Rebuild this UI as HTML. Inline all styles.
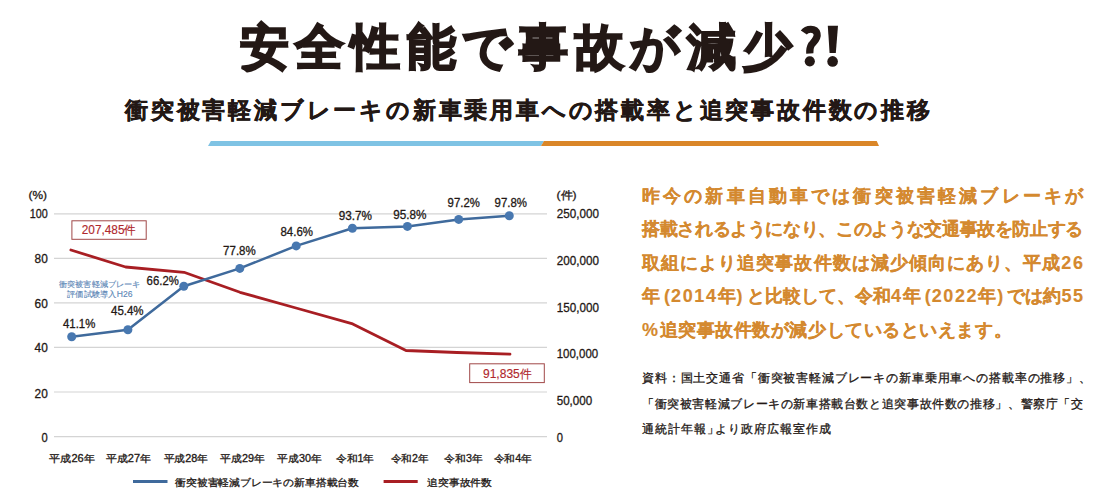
<!DOCTYPE html>
<html lang="ja">
<head>
<meta charset="utf-8">
<style>
html,body{margin:0;padding:0;background:#fff;}
body{width:1097px;height:497px;position:relative;overflow:hidden;font-family:"Liberation Sans",sans-serif;color:#231815;}
.abs{position:absolute;white-space:nowrap;}
#title{left:239.5px;top:22.5px;font-size:49px;line-height:49px;font-weight:bold;letter-spacing:6.7px;-webkit-text-stroke:2px #231815;}
#sub{left:125px;top:98.5px;font-size:23px;line-height:23px;font-weight:bold;letter-spacing:2.8px;-webkit-text-stroke:0.5px #231815;}
.ot{position:absolute;left:642px;width:441px;font-size:17.5px;line-height:17.5px;font-weight:bold;color:#d4892f;-webkit-text-stroke:0.15px #d4892f;text-align:justify;text-align-last:justify;white-space:nowrap;}
.ot b{font-size:18px;letter-spacing:1.6px;} .ot i{font-style:normal;font-size:18px;margin:0 1px 0 4px;} .ot u{text-decoration:none;font-size:18px;margin:0 4px 0 1px;}
.src{position:absolute;left:642px;width:441px;font-size:12px;line-height:12px;color:#231815;-webkit-text-stroke:0.3px #231815;text-align:justify;text-align-last:justify;white-space:nowrap;}
svg{position:absolute;left:0;top:0;}
svg text{font-family:"Liberation Sans",sans-serif;}
</style>
</head>
<body>
<div id="title" class="abs">安全性能で事故が減少</div>

<div id="sub" class="abs">衝突被害軽減ブレーキの新車乗用車への搭載率と追突事故件数の推移</div>
<svg width="1097" height="497" viewBox="0 0 1097 497">
<g fill="#231815"><path d="M803.8 32.5 C806.5 28.5 815.5 27.5 817 33.5 C818.3 38.5 813.5 42 811.3 45 C809.8 47.5 809.6 50 809.8 53.5" fill="none" stroke="#231815" stroke-width="7.2"/><circle cx="809.8" cy="61.3" r="5.1"/><polygon points="827.8,25.8 838,25.8 835.8,53 829.6,53"/><circle cx="832.6" cy="61.4" r="5.3"/></g>
<polygon points="210.9,141 544,141 541,146 208,146" fill="#7fc3e4"/>
<polygon points="544,141 876.7,141 879,146 541,146" fill="#da8628"/>
<g stroke="#d4d4d4" stroke-width="1.2"><line x1="54" y1="213.8" x2="547" y2="213.8"/><line x1="54" y1="258.3" x2="547" y2="258.3"/><line x1="54" y1="302.9" x2="547" y2="302.9"/><line x1="54" y1="347.4" x2="547" y2="347.4"/><line x1="54" y1="392.0" x2="547" y2="392.0"/><line x1="54" y1="436.6" x2="547" y2="436.6"/></g>
<text x="29.799999999999997" y="218" font-size="12.5" fill="#231815" stroke="#231815" text-anchor="start" textLength="18" lengthAdjust="spacingAndGlyphs" stroke-width="0.3">100</text>
<text x="34.599999999999994" y="263" font-size="12.5" fill="#231815" stroke="#231815" text-anchor="start" textLength="13.2" lengthAdjust="spacingAndGlyphs" stroke-width="0.3">80</text>
<text x="34.599999999999994" y="307.5" font-size="12.5" fill="#231815" stroke="#231815" text-anchor="start" textLength="13.2" lengthAdjust="spacingAndGlyphs" stroke-width="0.3">60</text>
<text x="34.599999999999994" y="352" font-size="12.5" fill="#231815" stroke="#231815" text-anchor="start" textLength="13.2" lengthAdjust="spacingAndGlyphs" stroke-width="0.3">40</text>
<text x="34.599999999999994" y="397.6" font-size="12.5" fill="#231815" stroke="#231815" text-anchor="start" textLength="13.2" lengthAdjust="spacingAndGlyphs" stroke-width="0.3">20</text>
<text x="41.599999999999994" y="441.6" font-size="12.5" fill="#231815" stroke="#231815" text-anchor="start" textLength="6.2" lengthAdjust="spacingAndGlyphs" stroke-width="0.3">0</text>
<text x="28.5" y="199" font-size="11" fill="#231815" stroke="#231815" text-anchor="start" textLength="18.5" lengthAdjust="spacingAndGlyphs" stroke-width="0.3">(%)</text>
<text x="556.7" y="218" font-size="12.5" fill="#231815" stroke="#231815" text-anchor="start" textLength="42.2" lengthAdjust="spacingAndGlyphs" stroke-width="0.3">250,000</text>
<text x="556.7" y="264.8" font-size="12.5" fill="#231815" stroke="#231815" text-anchor="start" textLength="42.2" lengthAdjust="spacingAndGlyphs" stroke-width="0.3">200,000</text>
<text x="556.7" y="311.8" font-size="12.5" fill="#231815" stroke="#231815" text-anchor="start" textLength="42.2" lengthAdjust="spacingAndGlyphs" stroke-width="0.3">150,000</text>
<text x="556.7" y="358" font-size="12.5" fill="#231815" stroke="#231815" text-anchor="start" textLength="41.5" lengthAdjust="spacingAndGlyphs" stroke-width="0.3">100,000</text>
<text x="556.7" y="405" font-size="12.5" fill="#231815" stroke="#231815" text-anchor="start" textLength="35.5" lengthAdjust="spacingAndGlyphs" stroke-width="0.3">50,000</text>
<text x="556.7" y="442" font-size="12.5" fill="#231815" stroke="#231815" text-anchor="start" textLength="6.2" lengthAdjust="spacingAndGlyphs" stroke-width="0.3">0</text>
<text x="556.6" y="199" font-size="11" fill="#231815" stroke="#231815" text-anchor="start" textLength="20" lengthAdjust="spacingAndGlyphs" stroke-width="0.3">(件)</text>
<polyline fill="none" stroke="#a81e23" stroke-width="2.8" stroke-linejoin="round" stroke-linecap="round" points="70.9,250 125.6,267 184,272.3 240,292.3 296,308 352.7,323.9 406,350.5 457,352.5 510,354.2"/>
<polyline fill="none" stroke="#3f6a9c" stroke-width="2.5" stroke-linejoin="round" points="71.7,336.7 127.9,329.8 183.8,286.2 239.8,268.4 296.2,245.9 352.4,228.2 407.4,226.4 458.7,219.4 509.3,215.8"/>
<g fill="#4878b0"><circle cx="71.7" cy="336.7" r="4.5"/><circle cx="127.9" cy="329.8" r="4.5"/><circle cx="183.8" cy="286.2" r="4.5"/><circle cx="239.8" cy="268.4" r="4.5"/><circle cx="296.2" cy="245.9" r="4.5"/><circle cx="352.4" cy="228.2" r="4.5"/><circle cx="407.4" cy="226.4" r="4.5"/><circle cx="458.7" cy="219.4" r="4.5"/><circle cx="509.3" cy="215.8" r="4.5"/></g>
<text x="63" y="328" font-size="12.3" fill="#231815" stroke="#231815" text-anchor="start" textLength="32.3" lengthAdjust="spacingAndGlyphs" stroke-width="0.3">41.1%</text>
<text x="111" y="315.3" font-size="12.3" fill="#231815" stroke="#231815" text-anchor="start" textLength="32.6" lengthAdjust="spacingAndGlyphs" stroke-width="0.3">45.4%</text>
<text x="146.6" y="285" font-size="12.3" fill="#231815" stroke="#231815" text-anchor="start" textLength="32.2" lengthAdjust="spacingAndGlyphs" stroke-width="0.3">66.2%</text>
<text x="223.1" y="255.3" font-size="12.3" fill="#231815" stroke="#231815" text-anchor="start" textLength="32.6" lengthAdjust="spacingAndGlyphs" stroke-width="0.3">77.8%</text>
<text x="280.5" y="235.8" font-size="12.3" fill="#231815" stroke="#231815" text-anchor="start" textLength="32.5" lengthAdjust="spacingAndGlyphs" stroke-width="0.3">84.6%</text>
<text x="338.7" y="219.5" font-size="12.3" fill="#231815" stroke="#231815" text-anchor="start" textLength="33.3" lengthAdjust="spacingAndGlyphs" stroke-width="0.3">93.7%</text>
<text x="393.3" y="219" font-size="12.3" fill="#231815" stroke="#231815" text-anchor="start" textLength="33.2" lengthAdjust="spacingAndGlyphs" stroke-width="0.3">95.8%</text>
<text x="447.6" y="206.7" font-size="12.3" fill="#231815" stroke="#231815" text-anchor="start" textLength="32.2" lengthAdjust="spacingAndGlyphs" stroke-width="0.3">97.2%</text>
<text x="494.6" y="206.8" font-size="12.3" fill="#231815" stroke="#231815" text-anchor="start" textLength="32.4" lengthAdjust="spacingAndGlyphs" stroke-width="0.3">97.8%</text>
<rect x="71.9" y="220.8" width="74.3" height="18.5" fill="none" stroke="#a04848" stroke-width="1"/>
<text x="81.8" y="234.3" font-size="12.3" fill="#b0282d" stroke="#b0282d" text-anchor="start" textLength="54.2" lengthAdjust="spacingAndGlyphs" stroke-width="0.15">207,485件</text>
<rect x="469.7" y="363.8" width="74.6" height="18.8" fill="none" stroke="#a04848" stroke-width="1"/>
<text x="483" y="378.3" font-size="12.3" fill="#b0282d" stroke="#b0282d" text-anchor="start" textLength="48.5" lengthAdjust="spacingAndGlyphs" stroke-width="0.15">91,835件</text>
<text x="59" y="287.2" font-size="8.3" fill="#5b86b6" stroke="#5b86b6" text-anchor="start" textLength="81.5" lengthAdjust="spacingAndGlyphs" stroke-width="0.12">衝突被害軽減ブレーキ</text>
<text x="67" y="297.2" font-size="8.3" fill="#5b86b6" stroke="#5b86b6" text-anchor="start" textLength="65.5" lengthAdjust="spacingAndGlyphs" stroke-width="0.12">評価試験導入H26</text>
<text x="49.4" y="461.5" font-size="10" fill="#231815" stroke="#231815" text-anchor="start" textLength="45.4" lengthAdjust="spacingAndGlyphs" stroke-width="0.3">平成26年</text>
<text x="105.9" y="461.5" font-size="10" fill="#231815" stroke="#231815" text-anchor="start" textLength="45.1" lengthAdjust="spacingAndGlyphs" stroke-width="0.3">平成27年</text>
<text x="163.6" y="461.5" font-size="10" fill="#231815" stroke="#231815" text-anchor="start" textLength="44.4" lengthAdjust="spacingAndGlyphs" stroke-width="0.3">平成28年</text>
<text x="220.4" y="461.5" font-size="10" fill="#231815" stroke="#231815" text-anchor="start" textLength="44.5" lengthAdjust="spacingAndGlyphs" stroke-width="0.3">平成29年</text>
<text x="277.3" y="461.5" font-size="10" fill="#231815" stroke="#231815" text-anchor="start" textLength="44.4" lengthAdjust="spacingAndGlyphs" stroke-width="0.3">平成30年</text>
<text x="336" y="461.5" font-size="10" fill="#231815" stroke="#231815" text-anchor="start" textLength="38.2" lengthAdjust="spacingAndGlyphs" stroke-width="0.3">令和1年</text>
<text x="390.8" y="461.5" font-size="10" fill="#231815" stroke="#231815" text-anchor="start" textLength="37.8" lengthAdjust="spacingAndGlyphs" stroke-width="0.3">令和2年</text>
<text x="444.4" y="461.5" font-size="10" fill="#231815" stroke="#231815" text-anchor="start" textLength="38.3" lengthAdjust="spacingAndGlyphs" stroke-width="0.3">令和3年</text>
<text x="493.6" y="461.5" font-size="10" fill="#231815" stroke="#231815" text-anchor="start" textLength="38.3" lengthAdjust="spacingAndGlyphs" stroke-width="0.3">令和4年</text>
<line x1="133" y1="481.5" x2="167.5" y2="481.5" stroke="#3f6a9c" stroke-width="2.8"/>
<text x="175.2" y="485.5" font-size="10.2" fill="#231815" stroke="#231815" text-anchor="start" textLength="183.8" lengthAdjust="spacingAndGlyphs" stroke-width="0.3">衝突被害軽減ブレーキの新車搭載台数</text>
<line x1="383.6" y1="481.5" x2="417.7" y2="481.5" stroke="#a81e23" stroke-width="2.8"/>
<text x="427.3" y="485.5" font-size="10.2" fill="#231815" stroke="#231815" text-anchor="start" textLength="64.7" lengthAdjust="spacingAndGlyphs" stroke-width="0.3">追突事故件数</text>
</svg>
<div class="ot" style="top:187.5px">昨今の新車自動車では衝突被害軽減ブレーキが</div>
<div class="ot" style="top:220.5px;letter-spacing:-0.4px">搭載されるようになり、このような交通事故を防止する</div>
<div class="ot" style="top:254.5px;width:442.6px">取組により追突事故件数は減少傾向にあり、平成<b>26</b></div>
<div class="ot" style="top:288px;width:442.6px">年<i>(</i><b>2014</b>年<u>)</u>と比較して、令和<b>4</b>年<i>(</i><b>2022</b>年<u>)</u>では約<b>55</b></div>
<div class="ot" style="top:321.5px;text-align-last:left;letter-spacing:0.55px"><b>%</b>追突事故件数が減少しているといえます。</div>
<div class="src" style="top:371.5px;width:449px">資料：国土交通省「衝突被害軽減ブレーキの新車乗用車への搭載率の推移」、</div>
<div class="src" style="top:398px">「衝突被害軽減ブレーキの新車搭載台数と追突事故件数の推移」、警察庁「交</div>
<div class="src" style="top:422.5px;text-align-last:left;letter-spacing:1.0px">通統計年報<span style="margin-right:-5px">」</span>より政府広報室作成</div>
</body>
</html>
